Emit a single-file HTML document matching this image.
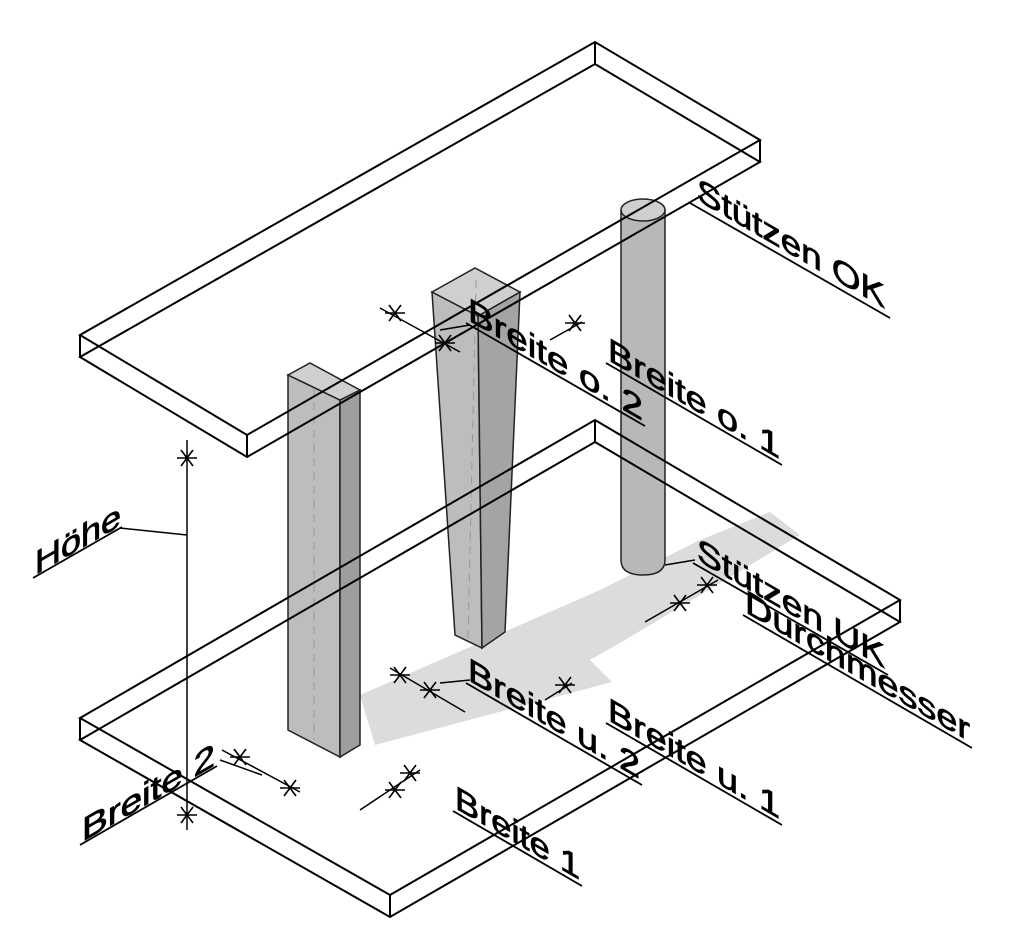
<!DOCTYPE html>
<html><head><meta charset="utf-8"><style>
html,body{margin:0;padding:0;background:#fff;}
svg{display:block;}
text{font-family:"Liberation Sans",sans-serif;font-size:33px;fill:#000;stroke:#000;stroke-width:0.8;}
</style></head><body>
<svg width="1018" height="945" viewBox="0 0 1018 945" xmlns="http://www.w3.org/2000/svg">
<polygon points="360,695 600,590 700,540 770,512 800,535 625,640 590,660 612,682 375,745" fill="#dcdcdc"/>
<g stroke="#222" stroke-width="1.5">
<polygon points="288,375 340,400 340,757 288,730" fill="#bdbdbd"/>
<polygon points="340,400 360,390 360,745 340,757" fill="#9e9e9e"/>
<polygon points="288,375 310,363 360,390 340,400" fill="#cfcfcf"/>
<polygon points="432,292 478,316 482,648 455,635" fill="#bdbdbd"/>
<polygon points="478,316 520,292 505,632 482,648" fill="#a4a4a4"/>
<polygon points="432,292 475,268 520,292 478,316" fill="#cfcfcf"/>
<path d="M621,210 L621,560 Q621,575 643,575 Q665,575 665,560 L665,210 Z" fill="#b8b8b8"/>
<ellipse cx="643" cy="210" rx="22" ry="11" fill="#cfcfcf"/>
</g>
<g stroke="#999" stroke-width="1" stroke-dasharray="8,6" fill="none">
<line x1="314" y1="388" x2="314" y2="740"/><line x1="476" y1="280" x2="468" y2="640"/>
</g>
<g stroke="#000" stroke-width="2" fill="none">
<polygon points="80,335 595,42 760,140 247,435"/>
<polygon points="80,357 595,64 760,162 247,457"/>
<line x1="80" y1="335" x2="80" y2="357"/><line x1="595" y1="42" x2="595" y2="64"/>
<line x1="760" y1="140" x2="760" y2="162"/><line x1="247" y1="435" x2="247" y2="457"/>
<polygon points="80,718 595,420 900,600 390,895"/>
<polygon points="80,740 595,442 900,622 390,917"/>
<line x1="80" y1="718" x2="80" y2="740"/><line x1="595" y1="420" x2="595" y2="442"/>
<line x1="900" y1="600" x2="900" y2="622"/><line x1="390" y1="895" x2="390" y2="917"/>
</g>
<g stroke="#000" stroke-width="1.5" fill="none">
<line x1="187" y1="440" x2="187" y2="830"/>
<line x1="120" y1="528" x2="187" y2="535"/>
<line x1="380" y1="308" x2="460" y2="352"/><line x1="440" y1="330" x2="470" y2="325"/>
<line x1="550" y1="340" x2="582" y2="322"/>
<line x1="645" y1="622" x2="718" y2="580"/><line x1="665" y1="565" x2="695" y2="560"/>
<line x1="390" y1="668" x2="465" y2="712"/><line x1="440" y1="683" x2="470" y2="680"/>
<line x1="545" y1="700" x2="572" y2="683"/>
<line x1="222" y1="750" x2="300" y2="792"/><line x1="220" y1="760" x2="262" y2="775"/>
<line x1="360" y1="810" x2="420" y2="770"/>
</g>
<g stroke="#000" stroke-width="1.6">
<path d="M177,458h20M181,450l12,16M193,450l-12,16"/>
<path d="M177,815h20M181,807l12,16M193,807l-12,16"/>
<path d="M385,313h20M389,305l12,16M401,305l-12,16"/>
<path d="M435,343h20M439,335l12,16M451,335l-12,16"/>
<path d="M565,323h20M569,315l12,16M581,315l-12,16"/>
<path d="M697,585h20M701,577l12,16M713,577l-12,16"/>
<path d="M670,603h20M674,595l12,16M686,595l-12,16"/>
<path d="M390,675h20M394,667l12,16M406,667l-12,16"/>
<path d="M420,690h20M424,682l12,16M436,682l-12,16"/>
<path d="M555,685h20M559,677l12,16M571,677l-12,16"/>
<path d="M230,757h20M234,749l12,16M246,749l-12,16"/>
<path d="M280,788h20M284,780l12,16M296,780l-12,16"/>
<path d="M385,790h20M389,782l12,16M401,782l-12,16"/>
<path d="M400,773h20M404,765l12,16M416,765l-12,16"/>
</g>
<g stroke="#000" stroke-width="1.8">
<line x1="690" y1="203" x2="890" y2="318"/>
<line x1="466" y1="323" x2="645" y2="426"/>
<line x1="606" y1="363" x2="782" y2="465"/>
<line x1="693" y1="563" x2="888" y2="675"/>
<line x1="743" y1="615" x2="972" y2="748"/>
<line x1="466" y1="683" x2="642" y2="785"/>
<line x1="606" y1="723" x2="782" y2="825"/>
<line x1="453" y1="811" x2="582" y2="886"/>
<line x1="33" y1="578" x2="122" y2="527"/>
<line x1="80" y1="845" x2="217" y2="766"/>
</g>
<text transform="translate(697,200) skewY(30)" textLength="188" lengthAdjust="spacingAndGlyphs">Stützen OK</text>
<text transform="translate(468,320) skewY(30)" textLength="175" lengthAdjust="spacingAndGlyphs">Breite o. 2</text>
<text transform="translate(608,360) skewY(30)" textLength="172" lengthAdjust="spacingAndGlyphs">Breite o. 1</text>
<text transform="translate(697,560) skewY(30)" textLength="188" lengthAdjust="spacingAndGlyphs">Stützen UK</text>
<text transform="translate(745,612) skewY(30)" textLength="225" lengthAdjust="spacingAndGlyphs">Durchmesser</text>
<text transform="translate(468,680) skewY(30)" textLength="172" lengthAdjust="spacingAndGlyphs">Breite u. 2</text>
<text transform="translate(608,720) skewY(30)" textLength="172" lengthAdjust="spacingAndGlyphs">Breite u. 1</text>
<text transform="translate(455,808) skewY(30)" textLength="125" lengthAdjust="spacingAndGlyphs">Breite 1</text>
<text transform="translate(35,575) skewY(-30)" textLength="86" lengthAdjust="spacingAndGlyphs">Höhe</text>
<text transform="translate(82,842) skewY(-30)" textLength="133" lengthAdjust="spacingAndGlyphs">Breite 2</text>
</svg>
</body></html>
